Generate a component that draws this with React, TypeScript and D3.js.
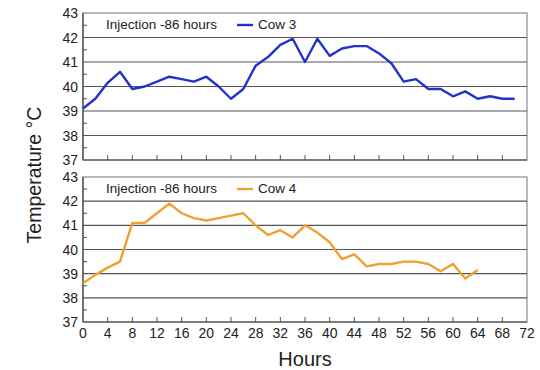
import React from "react";
import * as d3 from "d3";

// hours sampled every 2 h
const hours3 = [0, 2, 4, 6, 8, 10, 12, 14, 16, 18, 20, 22, 24, 26, 28, 30, 32, 34, 36, 38, 40, 42, 44, 46, 48, 50, 52, 54, 56, 58, 60, 62, 64, 66, 68, 70];
const cow3 = [39.1, 39.5, 40.15, 40.6, 39.9, 40.0, 40.2, 40.4, 40.3, 40.2, 40.4, 40.0, 39.5, 39.9, 40.85, 41.2, 41.7, 41.95, 41.0, 41.95, 41.25, 41.55, 41.65, 41.65, 41.35, 40.95, 40.2, 40.3, 39.9, 39.9, 39.6, 39.8, 39.5, 39.6, 39.5, 39.5];

const hours4 = [0, 2, 4, 6, 8, 10, 12, 14, 16, 18, 20, 22, 24, 26, 28, 30, 32, 34, 36, 38, 40, 42, 44, 46, 48, 50, 52, 54, 56, 58, 60, 62, 64];
const cow4 = [38.6, 38.95, 39.25, 39.5, 41.1, 41.1, 41.5, 41.9, 41.5, 41.3, 41.2, 41.3, 41.4, 41.5, 41.0, 40.6, 40.8, 40.5, 41.0, 40.7, 40.3, 39.6, 39.8, 39.3, 39.4, 39.4, 39.5, 39.5, 39.4, 39.1, 39.4, 38.8, 39.15];

const xTicks = d3.range(0, 73, 4);
const yTicks = [37, 38, 39, 40, 41, 42, 43];
const yMinor = [37.5, 38.5, 39.5, 40.5, 41.5, 42.5];

const font = "'Liberation Sans', Arial, sans-serif";
const x = d3.scaleLinear().domain([0, 72]).range([83, 527]);

function Panel({ top, bottom, hrs, vals, color, name, showX }: any) {
  const y = d3.scaleLinear().domain([37, 43]).range([bottom, top]);
  const line = d3.line<number>()
    .x((_, i) => x(hrs[i]))
    .y(d => y(d));
  return (
    <g>
      <rect x={x(0)} y={top} width={x(72) - x(0)} height={bottom - top} fill="#fff" stroke="#8a8a8a" strokeWidth={1.2} />
      {yTicks.slice(1, -1).map(t => (
        <line key={t} x1={x(0)} x2={x(72)} y1={y(t)} y2={y(t)} stroke="#555" strokeWidth={1.1} />
      ))}
      {yMinor.map(t => (
        <line key={t} x1={x(0)} x2={x(0) + 4} y1={y(t)} y2={y(t)} stroke="#555" strokeWidth={1} />
      ))}
      {xTicks.slice(1, -1).map(t => (
        <line key={t} x1={x(t)} x2={x(t)} y1={bottom} y2={bottom - 5} stroke="#555" strokeWidth={1} />
      ))}
      <line x1={x(0)} x2={x(0)} y1={top} y2={bottom} stroke="#444" strokeWidth={1.2} />
      <line x1={x(0)} x2={x(72)} y1={bottom} y2={bottom} stroke="#444" strokeWidth={1.2} />
      {yTicks.map(t => (
        <text key={t} x={x(0) - 5} y={y(t) + 5} textAnchor="end" fontSize={14} fill="#222" fontFamily={font}>{t}</text>
      ))}
      {showX && xTicks.map(t => (
        <text key={t} x={x(t)} y={bottom + 16} textAnchor="middle" fontSize={14} fill="#222" fontFamily={font}>{t}</text>
      ))}
      <path d={line(vals) || ""} fill="none" stroke={color} strokeWidth={2.4} strokeLinejoin="round" />
      <text x={106} y={top + 16} fontSize={13.5} fill="#222" fontFamily={font}>Injection -86 hours</text>
      <line x1={237} x2={253} y1={top + 12} y2={top + 12} stroke={color} strokeWidth={2.4} />
      <text x={258} y={top + 16} fontSize={13.5} fill="#222" fontFamily={font}>{name}</text>
    </g>
  );
}

export default function App() {
  return (
    <svg width={540} height={370} style={{ position: "absolute", left: 0, top: 0 }}>
      <rect width={540} height={370} fill="#fff" />
      <Panel top={13} bottom={160} hrs={hours3} vals={cow3} color="#2233cc" name="Cow 3" showX={false} />
      <Panel top={177} bottom={322} hrs={hours4} vals={cow4} color="#f0a030" name="Cow 4" showX={true} />
      <text transform="translate(41,175) rotate(-90)" textAnchor="middle" fontSize={19.5} fill="#222" fontFamily={font}>Temperature °C</text>
      <text x={305} y={366} textAnchor="middle" fontSize={20} fill="#222" fontFamily={font}>Hours</text>
    </svg>
  );
}
